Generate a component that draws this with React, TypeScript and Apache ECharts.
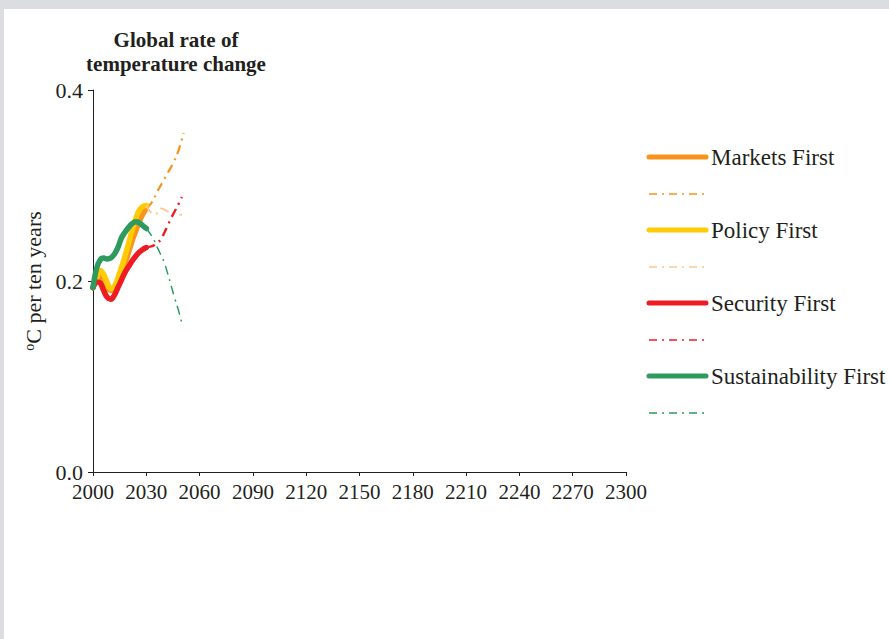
import React, { useEffect, useRef } from "react";
import * as echarts from "echarts";

// Scenario names and colours
const scenarioNames = ["Markets First", "Policy First", "Security First", "Sustainability First"];
const solidColors = ["#f7941d", "#ffcb05", "#ed1c24", "#2e9a5e"];
const dashedColors = ["#f7941d", "#fdc994", "#ed1c24", "#2e9a5e"];

// Historical / near-term part (solid lines)
const solidYears = [2000, 2002, 2004, 2006, 2008, 2010, 2012, 2014, 2016, 2018, 2020, 2022, 2024, 2026, 2028, 2030];
const marketsSolid = [0.193, 0.2, 0.205, 0.2, 0.193, 0.19, 0.19, 0.195, 0.205, 0.218, 0.23, 0.242, 0.252, 0.262, 0.27, 0.276];
const policySolid = [0.193, 0.203, 0.211, 0.207, 0.198, 0.192, 0.194, 0.203, 0.214, 0.226, 0.239, 0.253, 0.265, 0.274, 0.278, 0.279];
const securitySolid = [0.193, 0.199, 0.198, 0.19, 0.183, 0.181, 0.185, 0.193, 0.201, 0.209, 0.215, 0.221, 0.226, 0.23, 0.233, 0.235];
const sustainabilitySolid = [0.193, 0.213, 0.222, 0.224, 0.223, 0.224, 0.228, 0.235, 0.245, 0.251, 0.256, 0.26, 0.262, 0.261, 0.258, 0.255];

// Projection part (dash-dot lines)
const marketsProjYears = [2030, 2033, 2036, 2039, 2042, 2045, 2048, 2051];
const marketsProj = [0.276, 0.282, 0.293, 0.303, 0.313, 0.323, 0.336, 0.355];
const projYears = [2030, 2032, 2034, 2036, 2038, 2040, 2042, 2044, 2046, 2048, 2050];
const policyProj = [0.279, 0.273, 0.27, 0.271, 0.276, 0.275, 0.273, 0.271, 0.272, 0.27, 0.269];
const securityProj = [0.235, 0.236, 0.237, 0.24, 0.243, 0.25, 0.258, 0.266, 0.273, 0.28, 0.288];
const sustainabilityProj = [0.255, 0.25, 0.244, 0.236, 0.228, 0.22, 0.208, 0.195, 0.182, 0.17, 0.156];

// Axis ticks
const xMin = 2000;
const xMax = 2300;
const xStep = 30;
const yMin = 0;
const yMax = 0.4;
const yStep = 0.2;

const FONT = "'Liberation Serif', 'Times New Roman', serif";
const INK = "#231f20";

const zip = (xs: number[], ys: number[]) => xs.map((x, i) => [x, ys[i]]);

export default function App() {
  const ref = useRef<HTMLDivElement>(null);

  useEffect(() => {
    if (!ref.current) return;
    const chart = echarts.init(ref.current, null, { renderer: "svg" });

    const solidSets = [marketsSolid, policySolid, securitySolid, sustainabilitySolid];
    const projSets: [number[], number[]][] = [
      [marketsProjYears, marketsProj],
      [projYears, policyProj],
      [projYears, securityProj],
      [projYears, sustainabilityProj],
    ];
    const projWidths = [2.2, 2, 2.4, 1.5];

    const series: any[] = [];
    scenarioNames.forEach((name, i) => {
      series.push({
        name,
        type: "line",
        data: zip(solidYears, solidSets[i]),
        smooth: 0.4,
        symbol: "none",
        lineStyle: { color: solidColors[i], width: 5.5, cap: "round", join: "round" },
        emphasis: { disabled: true },
      });
      series.push({
        name: name + " (projection)",
        type: "line",
        data: zip(projSets[i][0], projSets[i][1]),
        smooth: 0.4,
        symbol: "none",
        lineStyle: { color: dashedColors[i], width: projWidths[i], type: [9, 5, 2, 5] },
        emphasis: { disabled: true },
      });
    });

    // Legend drawn as graphic rows: a thick solid sample then a dash-dot sample
    const legendGraphics: any[] = [];
    scenarioNames.forEach((name, i) => {
      const ySolid = 157 + 73 * i;
      const yDash = ySolid + 37;
      legendGraphics.push({
        type: "line",
        shape: { x1: 649, y1: ySolid, x2: 706, y2: ySolid },
        style: { stroke: solidColors[i], lineWidth: 5, lineCap: "round" },
      });
      legendGraphics.push({
        type: "text",
        x: 711,
        y: ySolid,
        style: { text: name, font: `23px ${FONT}`, fill: INK, textVerticalAlign: "middle", textAlign: "left" },
      });
      legendGraphics.push({
        type: "line",
        shape: { x1: 649, y1: yDash, x2: 706, y2: yDash },
        style: { stroke: dashedColors[i], lineWidth: 1.5, lineDash: [8, 5, 2, 5] },
      });
    });

    chart.setOption({
      animation: false,
      backgroundColor: "transparent",
      title: {
        text: "Global rate of\ntemperature change",
        left: 176,
        top: 28,
        padding: 0,
        textAlign: "center",
        textStyle: { fontFamily: FONT, fontSize: 21, fontWeight: "bold", color: INK, lineHeight: 24 },
      },
      grid: { left: 93, right: 263, top: 90, bottom: 167, containLabel: false },
      xAxis: {
        type: "value",
        min: xMin,
        max: xMax,
        interval: xStep,
        axisLine: { show: true, onZero: false, lineStyle: { color: INK, width: 1 } },
        axisTick: { show: true, inside: false, length: 4, lineStyle: { color: INK } },
        axisLabel: { fontFamily: FONT, fontSize: 21, color: INK, margin: 9, formatter: (v: number) => String(v) },
        splitLine: { show: false },
      },
      yAxis: {
        type: "value",
        min: yMin,
        max: yMax,
        interval: yStep,
        name: "{sup|o}C per ten years",
        nameLocation: "middle",
        nameRotate: 90,
        nameGap: 44,
        nameTextStyle: {
          fontFamily: FONT,
          fontSize: 22,
          color: INK,
          rich: { sup: { fontFamily: FONT, fontSize: 14, color: INK, verticalAlign: "top", padding: [0, 0, 9, 0] } },
        },
        axisLine: { show: true, lineStyle: { color: INK, width: 1 } },
        axisTick: { show: true, inside: false, length: 5, lineStyle: { color: INK } },
        axisLabel: { fontFamily: FONT, fontSize: 22, color: INK, margin: 10, formatter: (v: number) => v.toFixed(1) },
        splitLine: { show: false },
      },
      graphic: legendGraphics,
      series,
    });

    return () => chart.dispose();
  }, []);

  return (
    <div style={{ position: "fixed", left: 0, top: 0, width: 889, height: 639, background: "#dcdde0" }}>
      <div style={{ position: "absolute", left: 4, top: 9, right: 0, bottom: 0, background: "#ffffff" }} />
      <div ref={ref} style={{ position: "absolute", left: 0, top: 0, width: 889, height: 639 }} />
    </div>
  );
}
